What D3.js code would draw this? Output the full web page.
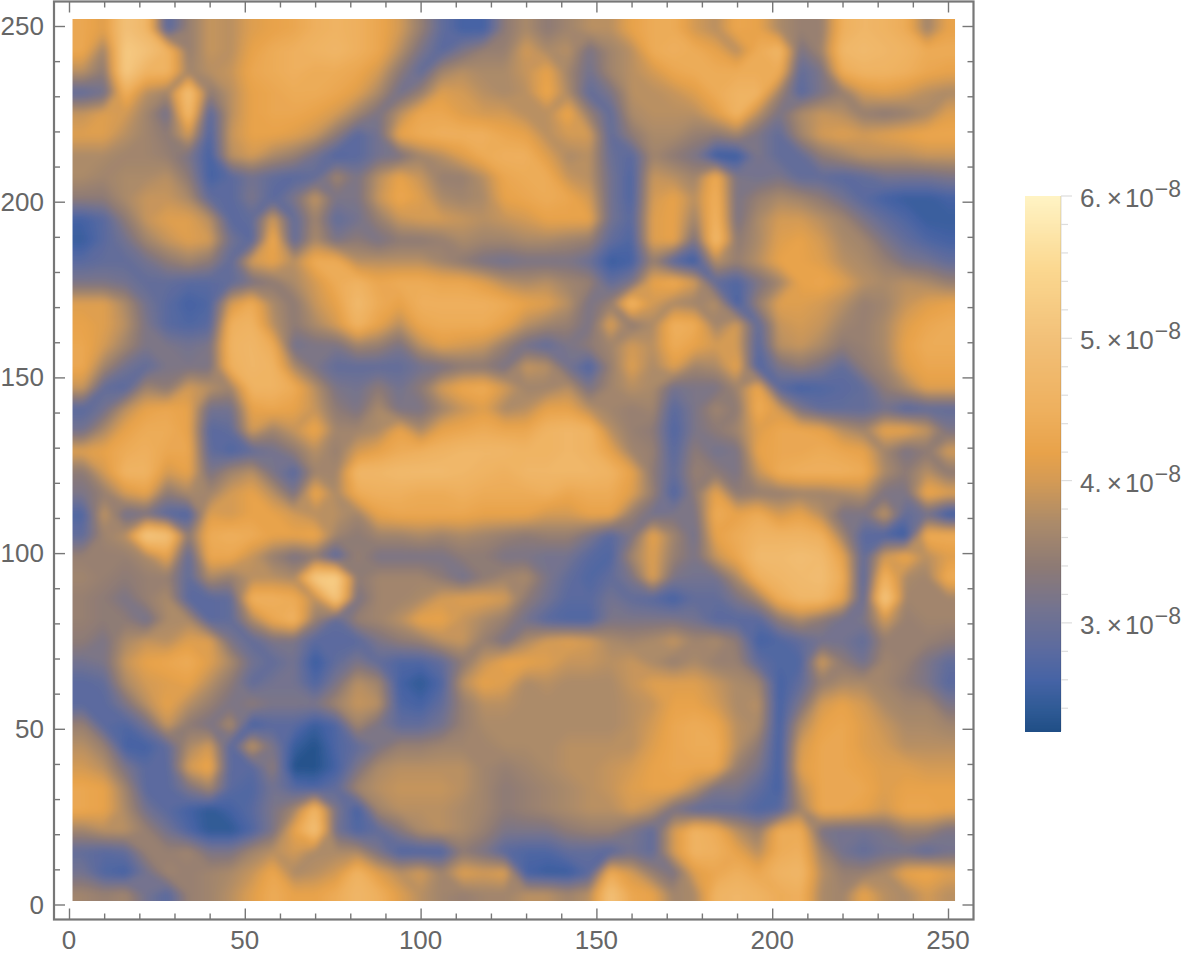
<!DOCTYPE html>
<html>
<head>
<meta charset="utf-8">
<title>heat map</title>
<script src="https://cdnjs.cloudflare.com/ajax/libs/d3/7.8.5/d3.min.js"></script>
<style>
  html, body { margin: 0; background: #fff; }
  text { font-family: "Liberation Sans", sans-serif; fill: #666; }
</style>
</head>
<body>
<div id="app"></div>
<script>
// values, in units of 1e-9, top row first, one sample every 6 units
const field = [
[43,41,50,47,28,35,39,38,41,42,43,45,46,45,43,40,35,29,26,26,34,37,34,36,38,38,42,44,44,40,38,43,42,37,35,35,45,47,46,44,36,42],
[43,36,52,50,46,35,39,38,42,44,45,46,47,45,43,38,32,28,32,35,35,40,37,38,32,36,38,44,45,44,42,38,44,47,32,36,47,48,47,46,44,44],
[38,34,52,46,46,36,38,39,43,44,45,44,44,43,40,34,29,36,38,37,37,39,42,36,31,36,38,40,43,44,44,44,44,44,29,32,44,46,46,45,43,42],
[29,31,45,38,36,50,34,38,42,43,44,44,43,41,37,31,35,41,40,38,37,38,43,37,29,32,38,38,39,41,44,46,46,36,28,32,35,40,41,40,38,37],
[39,41,40,36,31,48,28,38,42,43,43,42,40,36,32,38,43,43,41,40,40,38,38,43,35,29,37,38,38,38,41,46,38,32,37,39,38,35,34,35,37,41],
[41,41,38,36,34,40,27,39,42,42,41,39,34,28,31,42,44,45,45,45,43,42,38,40,40,29,34,37,37,35,34,36,32,29,36,40,41,40,41,42,43,43],
[37,37,36,36,35,32,26,38,40,37,35,31,27,28,31,32,36,38,41,44,45,45,41,37,38,30,28,36,34,32,25,25,32,29,29,34,36,38,38,38,39,39],
[37,36,37,37,38,34,26,28,31,29,28,29,36,32,38,42,39,35,35,38,43,44,44,39,38,31,27,39,38,36,44,32,31,32,29,29,28,29,31,31,31,32],
[34,34,37,39,39,37,29,28,32,28,32,39,32,32,39,43,41,37,36,37,42,43,44,43,40,31,27,40,42,38,45,32,35,37,36,34,31,28,26,25,25,26],
[26,28,34,39,41,41,38,28,29,40,29,36,29,31,35,39,40,40,39,38,39,40,42,42,42,31,28,41,42,36,46,32,37,40,40,38,36,32,29,27,25,25],
[25,28,31,36,39,41,40,31,28,44,29,37,32,34,32,34,34,35,37,36,36,37,37,36,35,29,27,41,42,32,48,34,37,41,42,40,37,36,32,29,27,26],
[28,29,29,31,34,36,34,29,40,42,38,44,44,38,38,38,38,36,34,32,31,32,32,32,30,25,26,35,28,25,38,35,38,42,42,41,38,37,35,32,31,29],
[32,32,31,29,29,28,28,29,32,34,37,40,44,46,43,44,44,43,43,41,38,37,38,36,35,29,32,42,44,40,29,27,32,36,42,43,41,38,37,38,37,35],
[41,41,37,31,28,26,27,40,44,37,34,39,42,48,44,42,45,45,45,45,44,42,41,38,32,35,47,40,37,36,38,26,35,41,41,40,38,35,36,39,41,42],
[42,41,38,32,28,27,28,45,46,38,34,37,40,46,42,38,43,44,44,44,42,38,36,35,32,41,34,37,45,44,36,40,29,39,40,39,36,35,37,41,43,44],
[43,40,36,32,32,31,32,46,47,44,31,32,32,36,35,32,38,41,40,39,35,31,29,32,34,36,40,38,44,42,40,40,28,38,39,37,34,35,37,42,44,44],
[43,36,31,29,32,32,32,45,47,46,37,32,29,29,29,29,31,32,34,34,32,39,38,31,27,35,41,37,41,36,37,42,27,32,34,32,29,34,36,41,43,43],
[39,29,28,36,34,40,38,36,46,46,44,38,32,31,34,31,34,40,43,44,40,36,36,38,32,36,38,37,31,32,32,36,43,28,26,27,28,29,34,37,41,41],
[28,31,38,42,43,42,31,31,42,43,42,39,34,32,37,32,32,36,39,41,37,38,42,42,38,36,35,36,28,32,36,34,44,40,32,29,29,29,31,28,29,29],
[31,37,42,44,44,42,28,29,40,36,39,43,36,36,37,42,37,42,43,44,43,43,46,47,46,38,35,34,27,32,34,36,41,43,43,42,38,36,42,42,39,32],
[41,42,44,45,43,43,29,27,29,31,34,38,35,40,42,44,45,46,47,47,47,46,46,47,46,42,36,35,28,34,31,32,42,43,43,44,43,42,36,32,34,40],
[34,40,46,46,40,42,32,36,38,32,28,36,36,47,47,48,48,48,47,46,45,47,47,47,47,46,42,34,29,35,34,32,39,44,45,45,45,44,37,34,38,34],
[32,35,40,42,34,37,36,40,42,38,32,43,37,44,45,45,44,44,45,44,44,44,45,43,44,44,41,35,27,34,42,34,35,35,36,36,37,38,32,32,43,41],
[27,39,31,32,28,27,41,40,42,42,40,38,38,36,42,43,43,43,43,42,42,42,40,40,42,42,35,31,32,32,44,42,44,40,42,38,32,32,39,29,31,25],
[29,36,38,52,50,34,44,45,44,42,42,43,36,34,36,36,37,36,37,36,35,34,35,35,32,28,32,42,36,31,42,44,46,46,46,45,36,28,27,25,44,44],
[35,35,35,37,42,29,43,43,39,35,32,34,28,35,32,32,32,32,34,34,32,32,31,31,28,27,36,41,35,32,39,43,48,48,49,48,42,29,40,43,38,41],
[36,35,34,35,35,29,37,35,38,38,37,52,53,34,36,36,36,34,31,34,36,37,32,29,27,29,32,41,32,31,31,37,45,47,48,49,44,28,46,37,36,44],
[35,34,32,35,37,28,28,29,45,45,44,38,51,32,36,36,37,40,41,41,40,34,31,28,28,31,29,28,26,29,29,32,36,44,47,47,42,29,52,36,36,36],
[35,34,34,31,37,37,28,29,37,43,46,35,29,35,36,38,42,42,39,37,35,31,28,27,27,32,32,32,32,31,28,28,28,34,37,34,31,32,40,35,36,36],
[34,32,37,39,38,41,41,32,29,32,32,28,28,28,32,34,35,38,39,35,32,37,40,41,40,37,36,37,39,36,37,34,26,27,29,31,31,29,35,35,35,34],
[31,32,39,42,43,44,41,37,31,29,31,25,29,32,29,27,27,29,34,39,42,42,41,39,39,38,39,37,35,37,35,35,29,27,27,40,34,31,36,35,32,29],
[28,29,37,40,41,42,38,34,29,31,31,27,32,38,36,26,24,27,38,42,41,37,38,37,37,37,39,41,41,41,39,37,36,26,29,35,37,37,36,34,32,28],
[28,28,32,38,42,38,35,32,34,32,32,32,36,39,38,27,26,29,35,38,38,37,37,37,37,37,38,39,42,42,40,37,38,26,32,40,42,40,37,36,36,32],
[35,28,27,31,39,34,32,37,26,28,28,25,27,36,32,29,29,31,35,37,37,37,37,37,37,37,38,40,43,44,43,38,37,26,37,42,43,41,39,37,37,36],
[38,35,26,26,29,37,40,28,39,32,25,23,27,29,32,35,35,36,36,36,37,37,37,38,38,38,38,41,43,44,44,38,34,26,40,43,43,41,40,38,38,38],
[40,38,32,28,28,40,43,28,28,34,23,23,26,32,37,38,38,38,38,36,35,36,37,38,38,39,40,42,43,43,43,35,32,26,41,43,43,42,41,41,40,40],
[43,42,36,28,28,32,36,28,27,31,28,27,29,36,38,39,39,39,38,36,34,35,36,37,38,39,41,42,42,38,32,32,29,26,38,43,43,43,41,42,42,42],
[43,42,37,31,28,26,24,26,28,32,36,47,32,26,36,38,38,38,37,36,34,35,36,37,38,38,40,38,32,29,29,29,27,28,36,43,43,42,40,43,43,42],
[36,38,38,35,31,27,24,24,27,32,42,50,31,27,29,33,37,38,37,35,32,32,32,34,35,35,32,29,40,46,44,38,35,44,44,32,31,31,32,35,35,32],
[29,28,29,35,35,36,32,32,36,38,40,37,37,37,32,27,27,27,34,32,28,27,27,29,29,28,31,29,40,46,45,42,38,44,45,36,31,29,31,31,29,31],
[31,27,26,31,36,35,36,37,39,43,37,38,40,46,41,38,40,36,41,40,41,26,25,25,28,44,40,35,32,41,43,45,43,46,47,38,35,35,37,42,43,41],
[36,35,36,31,28,35,36,38,41,44,42,42,44,47,45,41,38,36,35,36,36,38,38,36,38,50,43,42,36,37,46,47,46,44,45,37,36,42,38,37,40,38]
];
const gridStep = 6;
const gridFirst = 1, gridLast = 252;
const axisTicks = d3.range(0, 251, 10);
const axisLabels = [0, 50, 100, 150, 200, 250];
const barLabels = [3, 4, 5, 6];
const barTicks = d3.range(24, 61, 2);
const colorStops = [22.4, 24, 26, 28, 31, 34, 37, 40, 42, 45, 50, 55, 60];
const colorValues = ["#1f4e85", "#2f5a95", "#4563a5", "#5a6aa0", "#737390", "#8d7a75", "#aa8a6a", "#d39a55", "#e8a24a", "#eeb05e", "#f2c078", "#fbd890", "#fff3c4"];

const w = 1200, h = 966;
const svg = d3.select('#app').append('svg').attr('width', w).attr('height', h).style('display', 'block');

const x = d3.scaleLinear().domain([0, 250]).range([69, 948]);
const y = d3.scaleLinear().domain([0, 250]).range([904.5, 26]);
const color = d3.scaleLinear().domain(colorStops).range(colorValues);

// heat map as stacked filled contours, edge samples repeated once so the clip hides the contour border
const paddedRows = [field[0], ...field, field[field.length - 1]]
    .map(r => [r[0], ...r, r[r.length - 1]]);
const nx = paddedRows[0].length, ny = paddedRows.length;
const levels = d3.range(22, 61, 0.25);
const contours = d3.contours().size([nx, ny]).thresholds(levels)(paddedRows.flat());
const path = d3.geoPath(d3.geoTransform({
    point: function (px, py) {
        this.stream.point(x(gridFirst + (px - 1) * gridStep), y(gridLast - (py - 1) * gridStep));
    }
}));

const defs = svg.append('defs');
defs.append('clipPath').attr('id', 'plot').append('rect')
    .attr('x', x(gridFirst)).attr('y', y(gridLast))
    .attr('width', x(gridLast) - x(gridFirst)).attr('height', y(gridFirst) - y(gridLast));
defs.append('filter').attr('id', 'soft').append('feGaussianBlur').attr('stdDeviation', 3);

const plot = svg.append('g').attr('clip-path', 'url(#plot)').append('g').attr('filter', 'url(#soft)');
plot.selectAll('path').data(contours).enter().append('path')
    .attr('d', path)
    .attr('fill', d => color(d.value + 0.125));

// frame with ticks on all four sides
const frame = { left: 54, right: 973.5, top: 1.5, bottom: 919.5 };
const tickColor = '#777';
function tickLen(d) { return d % 50 === 0 ? 11 : 6; }

function addAxis(axis, tx, ty) {
    const g = svg.append('g').attr('transform', `translate(${tx},${ty})`).call(axis);
    g.select('.domain').remove();
    g.selectAll('line').attr('stroke', tickColor).attr('stroke-width', 1.4);
    g.selectAll('text').remove();
    return g;
}
function sized(g, attr, sign) {
    g.selectAll('.tick line').attr(attr, d => sign * tickLen(d));
}
sized(addAxis(d3.axisBottom(x).tickValues(axisTicks), 0, frame.bottom), 'y2', -1);
sized(addAxis(d3.axisTop(x).tickValues(axisTicks), 0, frame.top), 'y2', 1);
sized(addAxis(d3.axisLeft(y).tickValues(axisTicks), frame.left, 0), 'x2', 1);
sized(addAxis(d3.axisRight(y).tickValues(axisTicks), frame.right, 0), 'x2', -1);

svg.append('rect')
    .attr('x', frame.left).attr('y', frame.top)
    .attr('width', frame.right - frame.left).attr('height', frame.bottom - frame.top)
    .attr('fill', 'none').attr('stroke', tickColor).attr('stroke-width', 2.2);

svg.selectAll('.xlabel').data(axisLabels).enter().append('text')
    .attr('class', 'xlabel')
    .attr('x', d => x(d)).attr('y', 949)
    .attr('text-anchor', 'middle').attr('font-size', 26)
    .text(d => d);
svg.selectAll('.ylabel').data(axisLabels).enter().append('text')
    .attr('class', 'ylabel')
    .attr('x', 44).attr('y', d => y(d) + 9)
    .attr('text-anchor', 'end').attr('font-size', 26)
    .text(d => d);

// colour bar
const bar = { left: 1025, right: 1061, top: 196, bottom: 731 };
const barY = d3.scaleLinear().domain([60, 22.4]).range([bar.top, bar.bottom]);
const barSteps = d3.range(22.4, 60, 0.1);
svg.append('g').attr('shape-rendering', 'crispEdges').selectAll('rect').data(barSteps).enter().append('rect')
    .attr('x', bar.left).attr('width', bar.right - bar.left)
    .attr('y', d => barY(d + 0.1)).attr('height', d => barY(d) - barY(d + 0.1) + 1)
    .attr('fill', d => color(d + 0.05));
svg.append('line')
    .attr('x1', bar.right).attr('x2', bar.right).attr('y1', bar.top).attr('y2', bar.bottom)
    .attr('stroke', '#000').attr('stroke-opacity', 0.15);
svg.append('g').selectAll('line').data(barTicks).enter().append('line')
    .attr('x1', bar.right)
    .attr('x2', d => bar.right + (d % 10 === 0 ? 11 : 7))
    .attr('y1', d => barY(d)).attr('y2', d => barY(d))
    .attr('stroke', '#ddd').attr('stroke-width', 1.2);

const labels = svg.append('g').selectAll('text').data(barLabels).enter().append('text')
    .attr('x', 1080).attr('y', d => barY(d * 10) + 11).attr('font-size', 26);
labels.append('tspan').text(d => d + '.');
labels.append('tspan').attr('dx', 5).text('×');
labels.append('tspan').attr('dx', 3).text('10');
labels.append('tspan').attr('dy', -10).attr('dx', 1).attr('font-size', 23).text('−8');
</script>
</body>
</html>
